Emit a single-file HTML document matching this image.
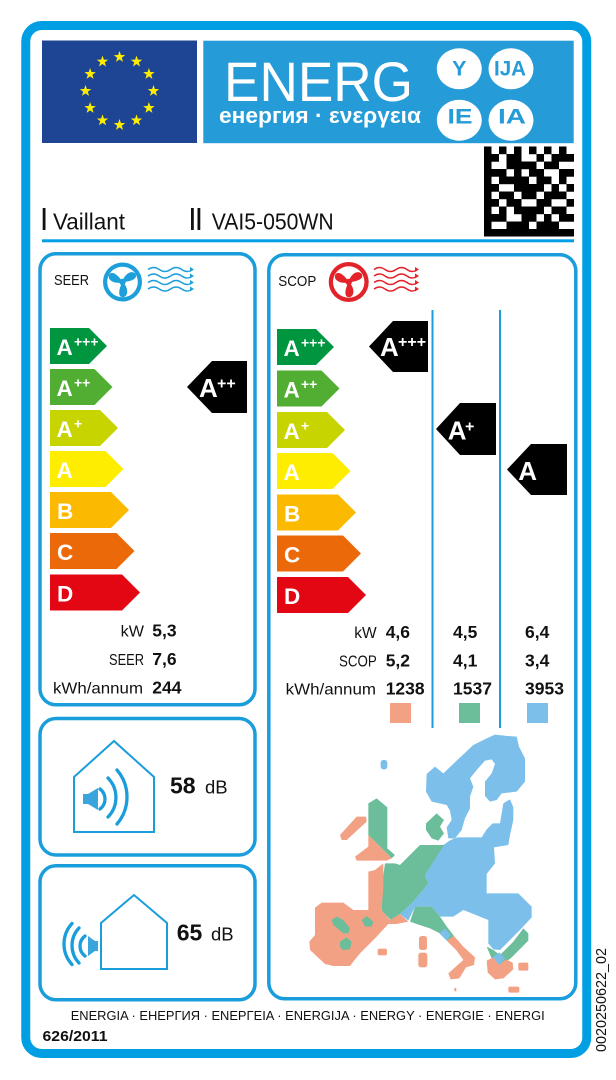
<!DOCTYPE html>
<html><head><meta charset="utf-8">
<style>
html,body{margin:0;padding:0;background:#fff;}
svg{display:block;}
text{font-family:"Liberation Sans","DejaVu Sans",sans-serif;}
</style></head><body>
<svg width="616" height="1080" viewBox="0 0 616 1080" xmlns="http://www.w3.org/2000/svg">
<rect width="616" height="1080" fill="#fff"/>
<defs>
<path id="st" d="M0,-6L1.41,-1.94L5.71,-1.85L2.28,0.74L3.53,4.85L0,2.4L-3.53,4.85L-2.28,0.74L-5.71,-1.85L-1.41,-1.94Z" fill="#ffed00"/>
</defs>
<!-- outer border -->
<rect x="25.75" y="25.5" width="561" height="1028" rx="16" fill="none" stroke="#009fe3" stroke-width="9"/>

<!-- EU flag -->
<rect x="42" y="40.5" width="155" height="102.5" fill="#1d4593"/>
<use href="#st" x="119.5" y="57"/>
<use href="#st" x="136.5" y="61.6"/>
<use href="#st" x="148.9" y="74"/>
<use href="#st" x="153.5" y="91"/>
<use href="#st" x="148.9" y="108"/>
<use href="#st" x="136.5" y="120.4"/>
<use href="#st" x="119.5" y="125"/>
<use href="#st" x="102.5" y="120.4"/>
<use href="#st" x="90.1" y="108"/>
<use href="#st" x="85.5" y="91"/>
<use href="#st" x="90.1" y="74"/>
<use href="#st" x="102.5" y="61.6"/>

<!-- ENERG box -->
<rect x="203.3" y="40.7" width="370.4" height="102.5" fill="#259bd8"/>
<text x="224" y="101" font-size="56" fill="#fff" textLength="189" lengthAdjust="spacingAndGlyphs">ENERG</text>
<text x="219" y="123" font-size="22" font-weight="bold" fill="#fff" textLength="202" lengthAdjust="spacingAndGlyphs">енергия · ενεργεια</text>
<ellipse cx="459.3" cy="68.8" rx="22.5" ry="20.5" fill="#fff"/>
<ellipse cx="511" cy="68.8" rx="22.5" ry="20.5" fill="#fff"/>
<ellipse cx="459.3" cy="120.2" rx="22.5" ry="20.5" fill="#fff"/>
<ellipse cx="511" cy="120.2" rx="22.5" ry="20.5" fill="#fff"/>
<g fill="#259bd8" font-size="21.5" font-weight="bold" text-anchor="middle">
<text x="459.3" y="75.5">Y</text>
<text x="510" y="75.5" textLength="32" lengthAdjust="spacingAndGlyphs">IJA</text>
<text x="460" y="123.5" textLength="25" lengthAdjust="spacingAndGlyphs">IE</text>
<text x="512" y="123.5" textLength="28" lengthAdjust="spacingAndGlyphs">IA</text>
</g>

<!-- QR -->
<g transform="translate(484,146.5) scale(7.5)" fill="#000">
<rect x="0" y="0" width="1" height="1.03"/><rect x="2" y="0" width="1" height="1.03"/><rect x="4" y="0" width="1" height="1.03"/><rect x="6" y="0" width="1" height="1.03"/><rect x="8" y="0" width="1" height="1.03"/><rect x="10" y="0" width="1" height="1.03"/>
<rect x="0" y="1" width="2" height="1.03"/><rect x="3" y="1" width="2" height="1.03"/><rect x="7" y="1" width="1" height="1.03"/><rect x="9" y="1" width="3" height="1.03"/>
<rect x="0" y="2" width="1" height="1.03"/><rect x="3" y="2" width="4" height="1.03"/><rect x="8" y="2" width="2" height="1.03"/>
<rect x="0" y="3" width="3" height="1.03"/><rect x="4" y="3" width="1" height="1.03"/><rect x="6" y="3" width="2" height="1.03"/><rect x="10" y="3" width="2" height="1.03"/>
<rect x="0" y="4" width="1" height="1.03"/><rect x="2" y="4" width="4" height="1.03"/><rect x="7" y="4" width="2" height="1.03"/><rect x="10" y="4" width="1" height="1.03"/>
<rect x="0" y="5" width="2" height="1.03"/><rect x="4" y="5" width="4" height="1.03"/><rect x="9" y="5" width="1" height="1.03"/><rect x="11" y="5" width="1" height="1.03"/>
<rect x="0" y="6" width="1" height="1.03"/><rect x="2" y="6" width="2" height="1.03"/><rect x="5" y="6" width="2" height="1.03"/><rect x="8" y="6" width="3" height="1.03"/>
<rect x="0" y="7" width="2" height="1.03"/><rect x="3" y="7" width="2" height="1.03"/><rect x="7" y="7" width="2" height="1.03"/><rect x="11" y="7" width="1" height="1.03"/>
<rect x="0" y="8" width="1" height="1.03"/><rect x="2" y="8" width="1" height="1.03"/><rect x="4" y="8" width="4" height="1.03"/><rect x="9" y="8" width="2" height="1.03"/>
<rect x="0" y="9" width="3" height="1.03"/><rect x="5" y="9" width="2" height="1.03"/><rect x="8" y="9" width="1" height="1.03"/><rect x="10" y="9" width="2" height="1.03"/>
<rect x="0" y="10" width="1" height="1.03"/><rect x="3" y="10" width="3" height="1.03"/><rect x="7" y="10" width="3" height="1.03"/>
<rect x="0" y="11" width="12" height="1"/>
</g>

<!-- brand line -->
<rect x="42.7" y="208" width="2.8" height="22" fill="#111"/>
<text x="53" y="229.3" font-size="23.5" fill="#111" textLength="72" lengthAdjust="spacingAndGlyphs">Vaillant</text>
<rect x="191" y="208" width="2.8" height="22" fill="#111"/>
<rect x="197.5" y="208" width="2.8" height="22" fill="#111"/>
<text x="211.7" y="229.3" font-size="23.5" fill="#111" textLength="122" lengthAdjust="spacingAndGlyphs">VAI5-050WN</text>
<rect x="42" y="239.3" width="532" height="3" fill="#009fe3"/>

<!-- panels -->
<g fill="none" stroke="#1a9ddb" stroke-width="3.5">
<rect x="40" y="253.8" width="215" height="451" rx="16"/>
<rect x="268.8" y="254.8" width="307" height="744" rx="16"/>
<rect x="40" y="718.5" width="215" height="136.5" rx="16"/>
<rect x="40" y="865.8" width="215" height="134" rx="16"/>
</g>

<!-- SEER header -->
<text x="54" y="285" font-size="15" fill="#111" textLength="35" lengthAdjust="spacingAndGlyphs">SEER</text>
<g transform="translate(122.5,282)">
<circle r="19.5" fill="#1d9fda"/>
<circle r="15.3" fill="#fff"/>
<g fill="#1d9fda">
<path d="M0,0 C1,-7 9,-13 13,-8 C16,-3 7,0 0,0Z"/>
<path d="M0,0 C1,-7 9,-13 13,-8 C16,-3 7,0 0,0Z" transform="rotate(120)"/>
<path d="M0,0 C1,-7 9,-13 13,-8 C16,-3 7,0 0,0Z" transform="rotate(240)"/>
<circle r="3.2"/>
</g>
</g>
<g fill="none" stroke="#1d9fda" stroke-width="1.4">
<path d="M148,269.5 q5.6,-4 11.25,0 t11.25,0 t11.25,0 t10.5,0"/>
<path d="M148,276 q5.6,-4 11.25,0 t11.25,0 t11.25,0 t10.5,0"/>
<path d="M148,282.5 q5.6,-4 11.25,0 t11.25,0 t11.25,0 t10.5,0"/>
<path d="M148,289 q5.6,-4 11.25,0 t11.25,0 t11.25,0 t10.5,0"/>
</g>
<g fill="#1d9fda">
<path d="M190,267 L194,269.5 L190,272Z"/><path d="M190,273.5 L194,276 L190,278.5Z"/><path d="M190,280 L194,282.5 L190,285Z"/><path d="M190,286.5 L194,289 L190,291.5Z"/>
</g>

<!-- SEER bars -->
<path d="M50,328H89L107,346L89,364H50Z" fill="#00963f"/>
<path d="M50,369H94.5L112.5,387L94.5,405H50Z" fill="#52ae32"/>
<path d="M50,410H100L118,428L100,446H50Z" fill="#c8d400"/>
<path d="M50,451H105.5L123.5,469L105.5,487H50Z" fill="#ffed00"/>
<path d="M50,492H111L129,510L111,528H50Z" fill="#fbba00"/>
<path d="M50,533H116.5L134.5,551L116.5,569H50Z" fill="#eb6909"/>
<path d="M50,574.5H122L140,592.5L122,610.5H50Z" fill="#e30613"/>
<g fill="#fff" font-weight="bold">
<text x="56.5" y="355" font-size="22.5">A</text><text x="74" y="346.5" font-size="14">+++</text>
<text x="56.5" y="396" font-size="22.5">A</text><text x="74" y="387.5" font-size="14">++</text>
<text x="56.5" y="437" font-size="22.5">A</text><text x="74" y="428.5" font-size="14">+</text>
<text x="56.5" y="478" font-size="22.5">A</text>
<text x="57" y="519" font-size="22.5">B</text>
<text x="57" y="560" font-size="22.5">C</text>
<text x="57" y="601.5" font-size="22.5">D</text>
</g>
<path d="M187,387 L212,361 H247 V413 H212 Z" fill="#000"/>
<text x="199" y="397" font-size="26" font-weight="bold" fill="#fff">A</text>
<text x="217" y="388.5" font-size="16" font-weight="bold" fill="#fff">++</text>

<!-- SEER data -->
<g fill="#111" font-size="16" text-anchor="end">
<text x="144" y="636.5" textLength="23.3" lengthAdjust="spacingAndGlyphs">kW</text>
<text x="144" y="665" textLength="35" lengthAdjust="spacingAndGlyphs">SEER</text>
<text x="143" y="693.3" textLength="90" lengthAdjust="spacingAndGlyphs">kWh/annum</text>
</g>
<g fill="#111" font-size="17.5" font-weight="bold">
<text x="152.3" y="636.5">5,3</text>
<text x="152.3" y="665">7,6</text>
<text x="152.3" y="693.3">244</text>
</g>

<!-- SCOP header -->
<text x="278.3" y="286" font-size="15" fill="#111" textLength="38" lengthAdjust="spacingAndGlyphs">SCOP</text>
<g transform="translate(348.7,282)">
<circle r="20" fill="#e2232a"/>
<circle r="15.7" fill="#fff"/>
<g fill="#e2232a">
<path d="M0,0 C1,-7 9,-13 13,-8 C16,-3 7,0 0,0Z"/>
<path d="M0,0 C1,-7 9,-13 13,-8 C16,-3 7,0 0,0Z" transform="rotate(120)"/>
<path d="M0,0 C1,-7 9,-13 13,-8 C16,-3 7,0 0,0Z" transform="rotate(240)"/>
<circle r="3.2"/>
</g>
</g>
<g fill="none" stroke="#e2232a" stroke-width="1.4">
<path d="M374,269.5 q5.5,-4 11,0 t11,0 t11,0 t10,0"/>
<path d="M374,276 q5.5,-4 11,0 t11,0 t11,0 t10,0"/>
<path d="M374,282.5 q5.5,-4 11,0 t11,0 t11,0 t10,0"/>
<path d="M374,289 q5.5,-4 11,0 t11,0 t11,0 t10,0"/>
</g>
<g fill="#e2232a">
<path d="M415,267 L419,269.5 L415,272Z"/><path d="M415,273.5 L419,276 L415,278.5Z"/><path d="M415,280 L419,282.5 L415,285Z"/><path d="M415,286.5 L419,289 L415,291.5Z"/>
</g>

<!-- SCOP column lines -->
<g stroke="#1a9ddb" stroke-width="2">
<line x1="432.5" y1="310" x2="432.5" y2="728"/>
<line x1="500" y1="310" x2="500" y2="728"/>
</g>

<!-- SCOP bars -->
<path d="M277,329H316L334,347L316,365H277Z" fill="#00963f"/>
<path d="M277,370.5H321.5L339.5,388.5L321.5,406.5H277Z" fill="#52ae32"/>
<path d="M277,412H327L345,430L327,448H277Z" fill="#c8d400"/>
<path d="M277,453H332.5L350.5,471L332.5,489H277Z" fill="#ffed00"/>
<path d="M277,494.5H338L356,512.5L338,530.5H277Z" fill="#fbba00"/>
<path d="M277,535.5H343L361,553.5L343,571.5H277Z" fill="#eb6909"/>
<path d="M277,577H348L366,595L348,613H277Z" fill="#e30613"/>
<g fill="#fff" font-weight="bold">
<text x="283.5" y="356" font-size="22.5">A</text><text x="301" y="347.5" font-size="14">+++</text>
<text x="283.5" y="397.5" font-size="22.5">A</text><text x="301" y="389" font-size="14">++</text>
<text x="283.5" y="439" font-size="22.5">A</text><text x="301" y="430.5" font-size="14">+</text>
<text x="283.5" y="480" font-size="22.5">A</text>
<text x="284" y="521.5" font-size="22.5">B</text>
<text x="284" y="562.5" font-size="22.5">C</text>
<text x="284" y="604" font-size="22.5">D</text>
</g>
<path d="M369,346.5 L393,321 H428 V372 H393 Z" fill="#000"/>
<text x="380" y="356" font-size="26" font-weight="bold" fill="#fff">A</text>
<text x="398" y="347" font-size="16" font-weight="bold" fill="#fff">+++</text>
<path d="M436,429 L460,403 H496 V455 H460 Z" fill="#000"/>
<text x="447.7" y="439.3" font-size="26" font-weight="bold" fill="#fff">A</text>
<text x="465" y="431.5" font-size="16" font-weight="bold" fill="#fff">+</text>
<path d="M507,469.5 L531,444 H567 V495 H531 Z" fill="#000"/>
<text x="518.3" y="480" font-size="26" font-weight="bold" fill="#fff">A</text>

<!-- SCOP data -->
<g fill="#111" font-size="16" text-anchor="end">
<text x="376.7" y="638" textLength="22.4" lengthAdjust="spacingAndGlyphs">kW</text>
<text x="376.7" y="666.7" textLength="37.7" lengthAdjust="spacingAndGlyphs">SCOP</text>
<text x="376" y="694.3" textLength="90.3" lengthAdjust="spacingAndGlyphs">kWh/annum</text>
</g>
<g fill="#111" font-size="17.5" font-weight="bold">
<text x="385.7" y="638">4,6</text><text x="453" y="638">4,5</text><text x="525" y="638">6,4</text>
<text x="385.7" y="666.7">5,2</text><text x="453" y="666.7">4,1</text><text x="525" y="666.7">3,4</text>
<text x="385.7" y="694.3">1238</text><text x="453" y="694.3">1537</text><text x="525" y="694.3">3953</text>
</g>
<rect x="390" y="703" width="21" height="20" fill="#f3a184"/>
<rect x="459" y="703" width="21" height="20" fill="#6cbd9a"/>
<rect x="527" y="703" width="21" height="20" fill="#7bbfea"/>

<!-- map -->
<g transform="translate(300,720) scale(0.33333)">
<rect x="242" y="120" width="20" height="28" rx="8" fill="#7bbfea"/>
<polygon fill="#7bbfea" points="380,162 405,140 430,160 470,122 520,75 560,55 585,44 622,48 650,50 657,80 675,115 675,185 650,215 605,220 590,240 570,245 555,228 555,185 575,160 585,132 575,118 555,122 530,150 510,175 520,200 510,230 510,265 495,295 485,330 465,355 445,355 440,322 455,300 450,272 440,255 395,245 378,215"/>
<polygon fill="#7bbfea" points="430,375 452,360 472,352 545,352 560,328 578,310 600,310 610,250 630,238 640,262 640,300 630,345 625,375 582,382 585,430 560,462 560,520 655,520 695,560 695,592 660,630 620,670 600,690 580,688 565,670 565,600 520,582 490,570 460,590 420,590 395,560 345,560 325,602 300,582 340,545 385,490 375,465"/>
<polygon fill="#6cbd9a" points="255,430 285,430 300,435 360,375 432,375 375,465 385,490 340,545 300,582 272,600 245,572 245,500"/>
<polygon fill="#6cbd9a" points="330,605 345,560 395,560 420,590 442,622 462,648 445,665 420,640 390,625 350,612"/>
<polygon fill="#7bbfea" points="418,640 435,625 452,645 440,662"/>
<polygon fill="#6cbd9a" points="560,680 580,690 600,705 640,665 670,625 685,640 685,662 632,715 600,738 575,715"/>
<polygon fill="#7bbfea" points="578,712 598,697 615,715 597,735"/>
<polygon fill="#f3a184" points="560,722 580,712 597,735 618,718 638,728 640,748 610,775 585,778 563,758"/>
<rect x="625" y="800" width="33" height="18" rx="5" fill="#f3a184"/>
<rect x="655" y="728" width="30" height="24" rx="5" fill="#f3a184"/>
<polygon fill="#f3a184" points="440,662 462,648 490,680 525,712 522,735 498,742 478,775 452,778 445,760 490,720 470,692"/>
<rect x="357" y="648" width="24" height="42" rx="8" fill="#f3a184"/>
<rect x="355" y="698" width="27" height="44" rx="8" fill="#f3a184"/>
<rect x="233" y="686" width="28" height="20" rx="6" fill="#f3a184"/>
<rect x="463" y="804" width="6" height="10" fill="#f3a184"/>
<polygon fill="#f3a184" points="205,455 225,450 250,430 250,500 245,570 270,600 300,582 325,605 290,612 265,612 225,655 180,700 160,725 150,738 100,738 75,732 30,690 28,665 45,645 45,563 65,548 130,548 160,570 205,570"/>
<polygon fill="#6cbd9a" points="95,600 110,590 130,600 150,625 145,640 130,640 100,615"/>
<polygon fill="#6cbd9a" points="120,665 140,652 155,665 150,688 128,690 120,680"/>
<polygon fill="#6cbd9a" points="185,600 200,588 220,605 215,620 195,620"/>
<polygon fill="#6cbd9a" points="205,250 230,235 262,262 262,385 285,405 275,415 205,345"/>
<polygon fill="#f3a184" points="205,345 275,415 260,422 170,422 165,410 205,380"/>
<polygon fill="#f3a184" points="120,345 170,290 198,290 200,305 140,360 125,360"/>
<polygon fill="#6cbd9a" points="378,310 410,280 432,300 420,320 432,340 415,362 395,355 378,330"/>
</g>

<!-- sound panel 1 -->
<path d="M74,777 L114,741 L154,777 V832 H74 Z" fill="none" stroke="#1a9ddb" stroke-width="2"/>
<path d="M83,794 H88 L98,788 V810 L88,804 H83 Z" fill="#3aa5dc"/>
<g fill="none" stroke="#1a9ddb" stroke-width="3.3" stroke-linecap="round">
<path d="M100,789 A12.5,12.5 0 0 1 100,809"/>
<path d="M108,778 A28,28 0 0 1 108,817"/>
<path d="M117,770 A41.5,41.5 0 0 1 117,824"/>
</g>
<text x="170" y="793.3" font-size="23" font-weight="bold" fill="#111">58</text>
<text x="205" y="793.3" font-size="18.5" fill="#111">dB</text>

<!-- sound panel 2 -->
<path d="M101,923 L134,895 L167,923 V969 H101 Z" fill="none" stroke="#1a9ddb" stroke-width="2"/>
<path d="M98,941 V951 H95 L88,956 V936 L95,941 Z" fill="#3aa5dc"/>
<g fill="none" stroke="#1a9ddb" stroke-width="3.3" stroke-linecap="round">
<path d="M85,936 A12.5,12.5 0 0 0 85,956"/>
<path d="M79,928 A25.4,25.4 0 0 0 79,963"/>
<path d="M72,923.5 A30.3,30.3 0 0 0 72,964.5"/>
</g>
<text x="176.7" y="940.7" font-size="23" font-weight="bold" fill="#111">65</text>
<text x="211" y="940.7" font-size="18.5" fill="#111">dB</text>

<!-- footer -->
<text x="70.7" y="1020" font-size="13" fill="#111" textLength="474" lengthAdjust="spacingAndGlyphs">ENERGIA · ЕНЕРГИЯ · ΕΝΕΡΓΕΙΑ · ENERGIJA · ENERGY · ENERGIE · ENERGI</text>
<text x="42.5" y="1041" font-size="14.5" font-weight="bold" fill="#111" textLength="65" lengthAdjust="spacingAndGlyphs">626/2011</text>
<text transform="translate(606,1052) rotate(-90)" font-size="14.5" fill="#111" textLength="104" lengthAdjust="spacingAndGlyphs">0020250622_02</text>
</svg>
</body></html>
